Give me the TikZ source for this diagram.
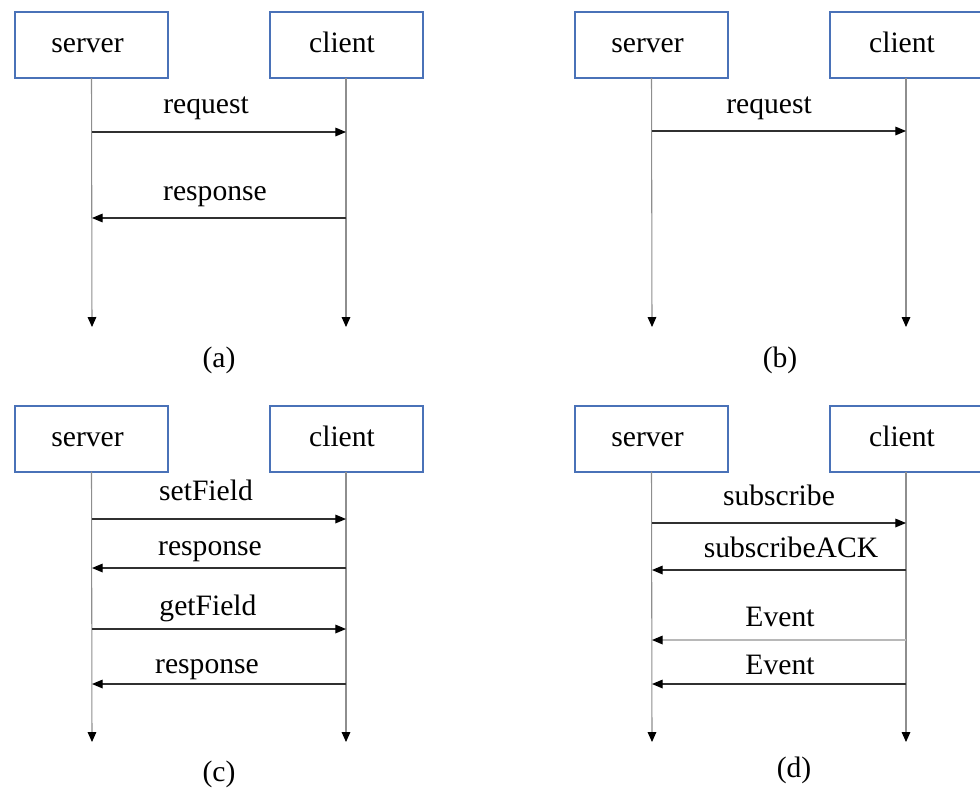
\documentclass[tikz,border=0pt]{standalone}
\usepackage{fontspec}
\setmainfont{Liberation Serif}
\usetikzlibrary{arrows.meta}
\definecolor{boxblue}{HTML}{4A72B8}
\definecolor{lifegray}{HTML}{8E8E8E}
\definecolor{msggray}{HTML}{303030}
\definecolor{faintgray}{HTML}{B8B8B8}
\begin{document}
\begin{tikzpicture}[x=0.75pt,y=-0.75pt,
  txt/.style={font=\fontsize{22.2}{25}\selectfont},
  actor/.style={txt,draw=boxblue,line width=1.5pt,minimum width=114.75pt,
    minimum height=49.5pt,inner sep=0pt,outer sep=0pt,
    text height=11.5pt,text depth=0pt,
    execute at begin node=\kern-6pt},
  life/.style={draw=lifegray,line width=0.8pt,
    -{Triangle[length=7.5pt,width=6.5pt,color=black]}},
  msg/.style={draw=msggray,line width=0.85pt,
    -{Triangle[length=8pt,width=6.5pt,color=black]}},
  faintmsg/.style={msg,draw=faintgray},
  lbl/.style={txt,anchor=base,inner sep=0pt}]
\useasboundingbox (0,0) rectangle (980,789);
\clip (0,0) rectangle (980,789);

% ---------- (a) request / response ----------
\node[actor] (aS) at (91.5,45) {server};
\node[actor] (aC) at (346,45) {client};
\coordinate (aSend) at (92,327);
\coordinate (aCend) at (346,327);
\draw[life] (aS.south) -- (aSend);
\draw[life] (aC.south) -- (aCend);
\coordinate (aS1) at (92,132);  \coordinate (aC1) at (346,132);
\coordinate (aS2) at (92,218);  \coordinate (aC2) at (346,218);
\draw[msg] (aS1) -- (aC1);
\draw[msg] (aC2) -- (aS2);
\node[lbl] (aL1) at (206,113) {request};
\node[lbl] (aL2) at (215,200) {response};
\node[lbl] (aCap) at (219,367) {(a)};

% ---------- (b) one-way request ----------
\node[actor] (bS) at (651.5,45) {server};
\node[actor] (bC) at (906,45) {client};
\coordinate (bSend) at (652,327);
\coordinate (bCend) at (906,327);
\draw[life] (bS.south) -- (bSend);
\draw[life] (bC.south) -- (bCend);
\coordinate (bS1) at (652,131);  \coordinate (bC1) at (906,131);
\draw[msg] (bS1) -- (bC1);
\node[lbl] (bL1) at (769,113) {request};
\node[lbl] (bCap) at (780,367) {(b)};

% ---------- (c) set / get field ----------
\node[actor] (cS) at (91.5,438.5) {server};
\node[actor] (cC) at (346,438.5) {client};
\coordinate (cSend) at (92,742);
\coordinate (cCend) at (346,742);
\draw[life] (cS.south) -- (cSend);
\draw[life] (cC.south) -- (cCend);
\coordinate (cS1) at (92,519);  \coordinate (cC1) at (346,519);
\coordinate (cS2) at (92,568);  \coordinate (cC2) at (346,568);
\coordinate (cS3) at (92,629);  \coordinate (cC3) at (346,629);
\coordinate (cS4) at (92,684);  \coordinate (cC4) at (346,684);
\draw[msg] (cS1) -- (cC1);
\draw[msg] (cC2) -- (cS2);
\draw[msg] (cS3) -- (cC3);
\draw[msg] (cC4) -- (cS4);
\node[lbl] (cL1) at (206,500) {setField};
\node[lbl] (cL2) at (210,555) {response};
\node[lbl] (cL3) at (208,615) {getField};
\node[lbl] (cL4) at (207,673) {response};
\node[lbl] (cCap) at (219,781) {(c)};

% ---------- (d) subscription and events ----------
\node[actor] (dS) at (651.5,438.5) {server};
\node[actor] (dC) at (906,438.5) {client};
\coordinate (dSend) at (652,742);
\coordinate (dCend) at (906,742);
\draw[life] (dS.south) -- (dSend);
\draw[life] (dC.south) -- (dCend);
\coordinate (dS1) at (652,523);  \coordinate (dC1) at (906,523);
\coordinate (dS2) at (652,570);  \coordinate (dC2) at (906,570);
\coordinate (dS3) at (652,640);  \coordinate (dC3) at (906,640);
\coordinate (dS4) at (652,684);  \coordinate (dC4) at (906,684);
\draw[msg] (dS1) -- (dC1);
\draw[msg] (dC2) -- (dS2);
\draw[faintmsg] (dC3) -- (dS3);
\draw[msg] (dC4) -- (dS4);
\node[lbl] (dL1) at (779,505) {subscribe};
\node[lbl] (dL2) at (791,557) {subscribeACK};
\node[lbl] (dL3) at (780,626) {Event};
\node[lbl] (dL4) at (780,674) {Event};
\node[lbl] (dCap) at (794,777) {(d)};
\end{tikzpicture}
\end{document}
